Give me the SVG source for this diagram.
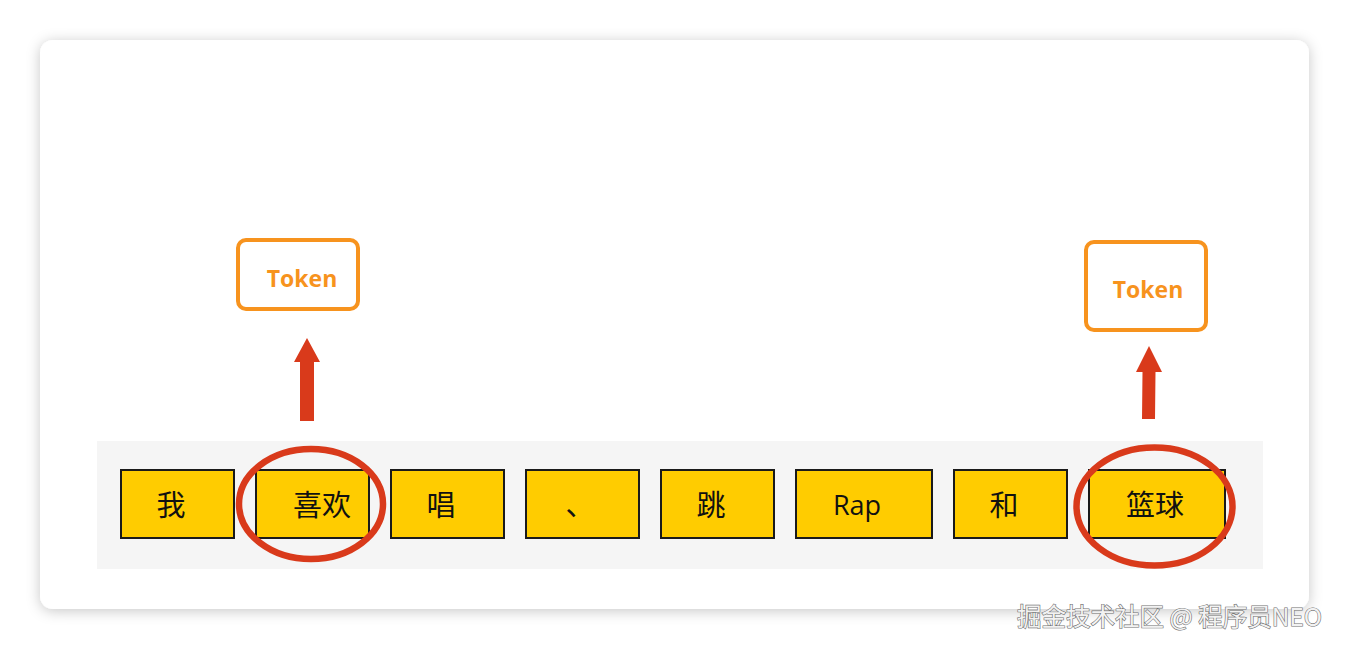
<svg xmlns="http://www.w3.org/2000/svg" width="1349" height="650" viewBox="0 0 1349 650">
<defs>
<filter id="sh" x="-5%" y="-5%" width="110%" height="115%">
<feDropShadow dx="0" dy="2" stdDeviation="7" flood-color="#000" flood-opacity="0.22"/>
</filter>
<style>
.tok{fill:#ffcc00;stroke:#1a1a1a;stroke-width:2}
.cjk{font-family:"Noto Sans CJK SC","Noto Sans",sans-serif;font-size:29px;fill:#111;text-anchor:middle}
.lat{font-family:"Open Sans","Noto Sans",sans-serif;font-size:27px;fill:#111;text-anchor:middle}
.tbox{fill:#fff;stroke:#f7931e;stroke-width:4}
.ttxt{font-family:"Open Sans","Noto Sans",sans-serif;font-weight:700;font-size:23px;fill:#f7931e;text-anchor:middle}
.circ{fill:none;stroke:#d93a1b;stroke-width:6.5}
.arr{fill:#d93a1b}
.wm{font-family:"Noto Sans CJK SC","Noto Sans",sans-serif;font-size:24.5px;fill:#f2f2f2;stroke:#6f6f6f;stroke-width:1.2;paint-order:stroke}
</style>
</defs>
<rect x="0" y="0" width="1349" height="650" fill="#ffffff"/>
<rect x="40" y="40" width="1269" height="569" rx="13" fill="#ffffff" filter="url(#sh)"/>
<rect x="97" y="441" width="1166" height="128" fill="#f5f5f5"/>

<g id="n-wo"><rect class="tok" x="121" y="470" width="113" height="68"/><text class="cjk" x="171" y="516">我</text></g>
<g id="n-xihuan"><rect class="tok" x="256" y="470" width="113" height="68"/><text class="cjk" x="322" y="516">喜欢</text></g>
<g id="n-chang"><rect class="tok" x="391" y="470" width="113" height="68"/><text class="cjk" x="441" y="516">唱</text></g>
<g id="n-dun"><rect class="tok" x="526" y="470" width="113" height="68"/><text class="cjk" x="580" y="516">、</text></g>
<g id="n-tiao"><rect class="tok" x="661" y="470" width="113" height="68"/><text class="cjk" x="711" y="516">跳</text></g>
<g id="n-rap"><rect class="tok" x="796" y="470" width="136" height="68"/><text class="lat" x="857" y="515">Rap</text></g>
<g id="n-he"><rect class="tok" x="954" y="470" width="113" height="68"/><text class="cjk" x="1004" y="516">和</text></g>
<g id="n-lanqiu"><rect class="tok" x="1089" y="470" width="136" height="68"/><text class="cjk" x="1155" y="516">篮球</text></g>

<g id="n-token1"><rect class="tbox" x="238" y="240" width="120" height="69" rx="8"/><text class="ttxt" x="302" y="287">Token</text></g>
<g id="n-token2"><rect class="tbox" x="1086" y="242" width="120" height="88" rx="8"/><text class="ttxt" x="1148" y="298">Token</text></g>

<g id="connectors">
<ellipse class="circ" cx="311" cy="504" rx="72" ry="55"/>
<ellipse class="circ" cx="1154.5" cy="506.5" rx="78" ry="59"/>
<polygon class="arr" points="307,338 320,362 314,362 314,421 300,421 300,362 294,362"/>
<polygon class="arr" points="1149,346 1162,372 1155.5,372 1155,419 1142,419 1142.5,372 1136,372"/>
</g>

<text class="wm" x="1017" y="626">掘金技术社区 @ 程序员NEO</text>
</svg>
